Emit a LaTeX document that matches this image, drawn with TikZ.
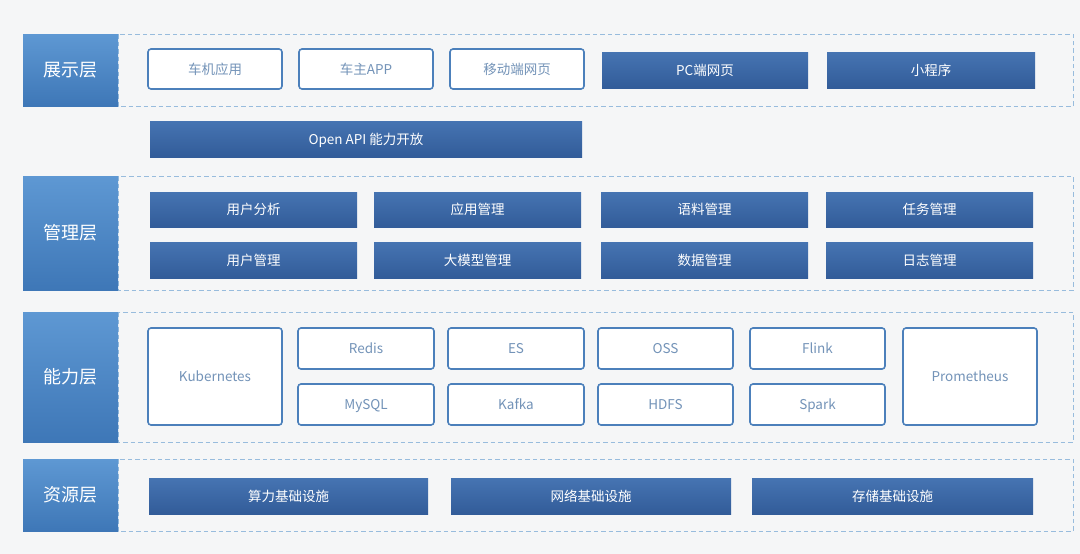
\documentclass[tikz,border=0pt]{standalone}
\usepackage{fontspec}
\setmainfont{Noto Sans CJK SC}
\definecolor{bg}{HTML}{F5F6F7}
\definecolor{labtop}{HTML}{5E98D3}
\definecolor{labbot}{HTML}{3E77B7}
\definecolor{soltop}{HTML}{4674B2}
\definecolor{solbot}{HTML}{325C99}
\definecolor{outdraw}{HTML}{4C80BB}
\definecolor{outtext}{HTML}{7393B8}
\definecolor{framec}{HTML}{98BCDD}
\tikzset{
  box/.style={anchor=north west, inner sep=0pt, outer sep=0pt, text height=12.5pt, text depth=2.5pt},
  layerbox/.style={box, top color=labtop, bottom color=labbot, draw=none, text=white, font=\fontsize{18}{20}\selectfont, text height=16.6pt, text depth=3pt},
  solidbox/.style={box, top color=soltop, bottom color=solbot, draw=none, text=white, font=\fontsize{13.5}{15}\selectfont},
  outbox/.style={box, fill=white, draw=outdraw, line width=1.6pt, rounded corners=3pt, text=outtext, font=\fontsize{13.5}{15}\selectfont},
  framebox/.style={draw=framec, line width=1pt, dash pattern=on 4.5pt off 3pt},
}
\newcommand\bx[7]{\node[#6, minimum width={#4-#2}, minimum height={#5-#3}] (#1) at (#2,#3) {#7};}
\begin{document}
\begin{tikzpicture}[x=1pt,y=-1pt]
\fill[bg] (0,0) rectangle (1080,554);
\useasboundingbox (0,0) rectangle (1080,554);
% frames
\draw[framebox] (118,34) rectangle (1073,106);
\draw[framebox] (118,176) rectangle (1073,290);
\draw[framebox] (118,312) rectangle (1073,442);
\draw[framebox] (118,459) rectangle (1073,531);
% layer labels
\bx{l1}{23}{34}{118}{106}{layerbox}{展示层}
\bx{l2}{23}{176}{118}{290}{layerbox}{管理层}
\bx{l3}{23}{312}{118}{442}{layerbox}{能力层}
\bx{l4}{23}{459}{118}{531}{layerbox}{资源层}
% presentation layer
\bx{p1}{148}{49}{282}{89}{outbox}{车机应用}
\bx{p2}{299}{49}{433}{89}{outbox}{车主APP}
\bx{p3}{450}{49}{584}{89}{outbox}{移动端网页}
\bx{p4}{602}{52}{808}{88}{solidbox}{PC端网页}
\bx{p5}{827}{52}{1035}{88}{solidbox}{小程序}
% open api
\bx{api}{150}{121}{582}{157}{solidbox}{Open API 能力开放}
% management layer
\bx{m1}{150}{192}{357}{227}{solidbox}{用户分析}
\bx{m2}{374}{192}{581}{227}{solidbox}{应用管理}
\bx{m3}{601}{192}{808}{227}{solidbox}{语料管理}
\bx{m4}{826}{192}{1033}{227}{solidbox}{任务管理}
\bx{m5}{150}{242}{357}{278}{solidbox}{用户管理}
\bx{m6}{374}{242}{581}{278}{solidbox}{大模型管理}
\bx{m7}{601}{242}{808}{278}{solidbox}{数据管理}
\bx{m8}{826}{242}{1033}{278}{solidbox}{日志管理}
% capability layer
\bx{c1}{148}{328}{282}{425}{outbox}{Kubernetes}
\bx{c2}{298}{328}{434}{369}{outbox}{Redis}
\bx{c3}{298}{384}{434}{425}{outbox}{MySQL}
\bx{c4}{448}{328}{584}{369}{outbox}{ES}
\bx{c5}{448}{384}{584}{425}{outbox}{Kafka}
\bx{c6}{598}{328}{733}{369}{outbox}{OSS}
\bx{c7}{598}{384}{733}{425}{outbox}{HDFS}
\bx{c8}{750}{328}{885}{369}{outbox}{Flink}
\bx{c9}{750}{384}{885}{425}{outbox}{Spark}
\bx{c10}{903}{328}{1037}{425}{outbox}{Prometheus}
% resource layer
\bx{r1}{149}{478}{428}{514}{solidbox}{算力基础设施}
\bx{r2}{451}{478}{731}{514}{solidbox}{网络基础设施}
\bx{r3}{752}{478}{1033}{514}{solidbox}{存储基础设施}
\end{tikzpicture}
\end{document}
